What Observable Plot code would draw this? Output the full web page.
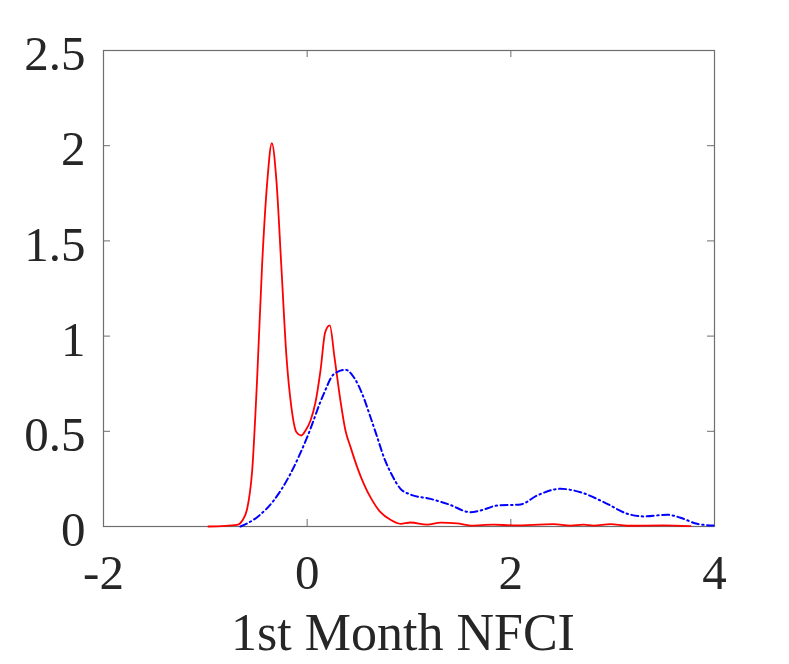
<!DOCTYPE html>
<html>
<head>
<meta charset="utf-8">
<script src="https://cdn.jsdelivr.net/npm/d3@7"></script>
<script src="https://cdn.jsdelivr.net/npm/@observablehq/plot@0.6"></script>
<style>
  html, body { margin: 0; padding: 0; background: #fff; }
</style>
</head>
<body>
<div id="chart"></div>
<script>
const xTicks = [-2, 0, 2, 4];
const yTicks = [0, 0.5, 1, 1.5, 2, 2.5];
const xLabel = "1st Month NFCI";

const redX = [-0.97, -0.687, -0.638, -0.589, -0.540, -0.491, -0.442, -0.392, -0.347, -0.301, -0.255, -0.203, -0.155, -0.105, -0.059, -0.016, 0.033, 0.082, 0.131, 0.177, 0.222, 0.268, 0.327, 0.376, 0.426, 0.491, 0.556, 0.639, 0.720, 0.818, 0.917, 1.015, 1.179, 1.309, 1.473, 1.604, 1.830, 2.026, 2.419, 2.586, 2.714, 2.812, 2.979, 3.143, 3.499, 3.764];
const redY = [0, 0.009, 0.03, 0.093, 0.294, 0.78, 1.38, 1.81, 2.013, 1.81, 1.38, 0.89, 0.627, 0.495, 0.478, 0.504, 0.557, 0.653, 0.82, 1.02, 1.056, 0.89, 0.66, 0.504, 0.417, 0.312, 0.224, 0.137, 0.075, 0.035, 0.014, 0.021, 0.01, 0.02, 0.016, 0.005, 0.01, 0.006, 0.012, 0.005, 0.01, 0.005, 0.012, 0.004, 0.006, 0.002];

const blueX = [-0.655, -0.491, -0.328, -0.164, 0.0, 0.163, 0.262, 0.376, 0.458, 0.540, 0.622, 0.688, 0.753, 0.835, 0.917, 1.015, 1.211, 1.391, 1.604, 1.702, 1.866, 2.095, 2.259, 2.488, 2.684, 2.946, 3.143, 3.306, 3.536, 3.666, 3.830, 3.99];
const blueY = [0, 0.049, 0.137, 0.277, 0.469, 0.697, 0.80, 0.823, 0.784, 0.697, 0.574, 0.469, 0.364, 0.268, 0.198, 0.168, 0.145, 0.116, 0.075, 0.084, 0.11, 0.116, 0.163, 0.198, 0.18, 0.119, 0.067, 0.053, 0.062, 0.046, 0.014, 0.005];

const red = redX.map((x, i) => ({x, y: redY[i]}));
const blue = blueX.map((x, i) => ({x, y: blueY[i]}));

const W = 789, H = 664;
const mL = 103, mR = 75, mT = 50, mB = 138;
const fw = W - mL - mR, fh = H - mT - mB;
const tk = 7;
const ink = "#262626";
const axisCol = "#6e6e6e";

const chart = Plot.plot({
  width: W,
  height: H,
  marginLeft: mL,
  marginRight: mR,
  marginTop: mT,
  marginBottom: mB,
  style: {fontFamily: "'Liberation Serif', 'Times New Roman', serif", fontSize: "48px", color: ink, background: "#fff"},
  x: {domain: [-2, 4]},
  y: {domain: [0, 2.5]},
  marks: [
    Plot.frame({stroke: axisCol, strokeWidth: 1.2}),
    Plot.tickX(xTicks, {x: d => d, stroke: axisCol, insetTop: fh - tk}),
    Plot.tickX(xTicks, {x: d => d, stroke: axisCol, insetBottom: fh - tk}),
    Plot.tickY(yTicks, {y: d => d, stroke: axisCol, insetRight: fw - tk}),
    Plot.tickY(yTicks, {y: d => d, stroke: axisCol, insetLeft: fw - tk}),
    Plot.axisX(xTicks, {tickSize: 0, tickPadding: 28, tickFormat: d => String(d), label: null, fontSize: 49, fill: ink}),
    Plot.axisY(yTicks, {tickSize: 0, tickPadding: 18, dy: 4, tickFormat: d => String(d), label: null, fontSize: 49, fill: ink}),
    Plot.line(red, {x: "x", y: "y", stroke: "#ff0000", strokeWidth: 1.8, curve: "monotone-x"}),
    Plot.line(blue, {x: "x", y: "y", stroke: "#0000ff", strokeWidth: 2, strokeDasharray: "7,3.5,1.5,3.5", curve: "monotone-x"}),
    Plot.text([xLabel], {frameAnchor: "bottom", text: d => d, lineAnchor: "top", dy: 87, dx: -6, fontSize: 52, fill: ink})
  ]
});
document.getElementById("chart").appendChild(chart);
</script>
</body>
</html>
